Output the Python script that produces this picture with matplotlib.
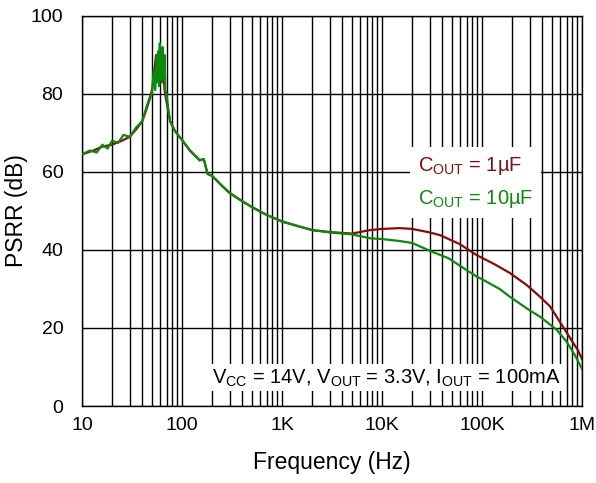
import matplotlib
matplotlib.use('Agg')
import matplotlib.pyplot as plt
import numpy as np

plt.rcParams['font.family'] = ['Liberation Sans', 'DejaVu Sans']
plt.rcParams['mathtext.fontset'] = 'custom'
plt.rcParams['mathtext.rm'] = 'Liberation Sans'
plt.rcParams['mathtext.it'] = 'Liberation Sans'

# PSRR readings (Hz, dB)
freq_1u = [10, 13, 16, 20, 25, 30, 35, 40, 44, 48, 51, 53, 55, 57, 59, 61, 63, 65, 67, 70,
           76, 85, 100, 120, 150, 165, 180, 200, 250, 300, 400, 500, 700, 1e3, 1.5e3,
           2e3, 3e3, 5e3, 7.6e3, 1e4, 1.5e4, 2e4, 3e4, 3.8e4, 6e4, 8.8e4, 1.3e5, 1.9e5,
           2.8e5, 3.8e5, 4.8e5, 6.45e5, 8e5, 9e5, 1e6]
psrr_1u = [64.5, 65.5, 66.5, 67, 68, 69, 71, 73, 76, 79, 82, 86, 90, 88, 84, 86, 83, 85, 81, 78,
           73, 70.5, 68.2, 65.5, 63, 63.3, 59.5, 59, 56.5, 54.6, 52.5, 51, 49, 47.3, 46,
           45.1, 44.6, 44.2, 45.1, 45.4, 45.6, 45.4, 44.5, 43.8, 41.5, 38.7, 36.5, 34.1,
           31, 28, 25.5, 20.3, 16.5, 14.5, 12]

freq_10u = [10, 12, 14, 16, 18, 20, 23, 26, 30, 35, 40, 44, 48, 50, 52, 54, 56, 57, 58, 59,
            60, 61, 62, 63, 64, 65, 66, 67, 68, 70, 73, 76, 85, 100, 120, 150, 165, 180, 200,
            250, 300, 400, 500, 700, 1e3, 1.5e3, 2e3, 3e3, 5e3, 7.6e3, 1e4, 1.5e4, 2e4,
            3e4, 4.6e4, 8.8e4, 1e5, 1.5e5, 1.9e5, 3e5, 3.8e5, 5.6e5, 7e5, 8.5e5, 1e6]
psrr_10u = [64.5, 65.5, 65, 67, 66, 68, 67.5, 69.5, 69, 71.5, 73, 76.5, 79.5, 80, 86, 81, 90, 83,
            91, 82, 93, 84, 91, 83, 92, 86, 84, 90, 81, 80, 76, 73, 70.5, 68.2, 65.5, 63, 63.3,
            59.5, 59, 56.5, 54.6, 52.5, 51, 49, 47.3, 46, 45.1, 44.5, 44, 43, 42.8, 42.3, 41.8,
            39.8, 37.9, 33.2, 32.5, 30, 28, 24.5, 22.9, 19.5, 16.5, 13, 9.5]

x_ticks = [10, 100, 1e3, 1e4, 1e5, 1e6]
x_labels = ['10', '100', '1K', '10K', '100K', '1M']
y_ticks = [0, 20, 40, 60, 80, 100]

red = '#8b0a0a'
green = '#0a8a0a'

fig = plt.figure(figsize=(5.96, 4.83), dpi=100)
ax = fig.add_axes([0.1376, 0.1594, 0.839, 0.8076])

ax.plot(freq_1u, psrr_1u, color=red, lw=1.6, zorder=3,
        label=r'C$_{\mathrm{OUT}}$ = 1µF')
ax.plot(freq_10u, psrr_10u, color=green, lw=1.6, zorder=4,
        label=r'C$_{\mathrm{OUT}}$ = 10µF')

ax.set_xscale('log')
ax.set_xlim(10, 1e6)
ax.set_ylim(0, 100)
ax.set_xticks(x_ticks)
ax.set_xticklabels(x_labels)
ax.set_yticks(y_ticks)
ax.xaxis.set_minor_locator(matplotlib.ticker.LogLocator(base=10, subs=np.arange(2, 10)))
ax.xaxis.set_minor_formatter(matplotlib.ticker.NullFormatter())
ax.tick_params(which='both', length=0, labelsize=14)
ax.tick_params(axis='y', pad=13.5)
ax.tick_params(axis='x', pad=8)
ax.grid(True, which='both', axis='x', color='black', lw=1)
ax.grid(True, which='major', axis='y', color='black', lw=1)
for s in ax.spines.values():
    s.set_color('black')
    s.set_linewidth(1)

ax.set_xlabel('Frequency (Hz)', fontsize=16.5, labelpad=12)
ax.set_ylabel('PSRR (dB)', fontsize=16.5, labelpad=2)

leg = ax.legend(loc='upper left', bbox_to_anchor=(0.635, 0.69), handlelength=0,
                handletextpad=0, labelcolor='linecolor', fontsize=14.5, frameon=True,
                framealpha=1, edgecolor='none', facecolor='white', fancybox=False,
                borderpad=0.4, labelspacing=0.55)
for h in leg.legend_handles:
    h.set_visible(False)
leg.set_zorder(5)

ax.text(0.958, 0.072, r'V$_{\mathrm{CC}}$ = 14V, V$_{\mathrm{OUT}}$ = 3.3V, I$_{\mathrm{OUT}}$ = 100mA',
        transform=ax.transAxes, ha='right', va='center', fontsize=14.5, zorder=5,
        bbox=dict(facecolor='white', edgecolor='none', pad=2))

fig.savefig('out.png', dpi=100)
